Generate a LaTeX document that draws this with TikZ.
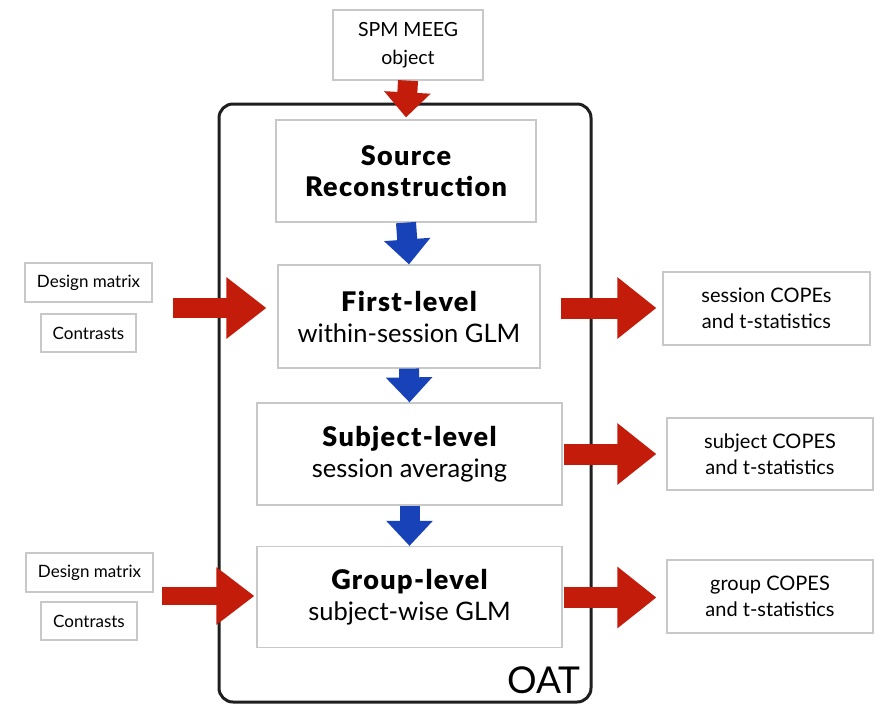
\documentclass[tikz,border=0pt]{standalone}
\usepackage{fontspec}
\setmainfont{Lato}
\newfontface\headfont[LetterSpace=5]{Lato Black}
\usetikzlibrary{arrows.meta}
\definecolor{flowred}{RGB}{196,28,10}
\definecolor{flowblue}{RGB}{24,66,184}
\definecolor{boxgray}{RGB}{200,200,200}
\tikzset{
  x=1pt, y=-1pt,
  stage/.style={draw=boxgray, line width=1.2pt, fill=white, align=center,
    inner sep=0pt, font=\fontsize{25.5}{31}\selectfont},
  smallbox/.style={draw=boxgray, line width=1.2pt, fill=white, align=center,
    inner sep=0pt, font=\fontsize{17}{20}\selectfont},
  outbox/.style={draw=boxgray, line width=1.2pt, fill=white, align=center,
    inner sep=0pt, font=\fontsize{20}{26}\selectfont},
  bluearrow/.style={draw=flowblue, line width=20pt,
    -{Triangle[width=45pt,length=25pt,fill=flowblue]}},
  redin/.style={draw=flowred, line width=20pt,
    -{Triangle[width=59pt,length=40pt,fill=flowred]}},
  redout/.style={draw=flowred, line width=21pt,
    -{Triangle[width=59pt,length=39pt,fill=flowred]}},
  redtop/.style={draw=flowred, line width=20pt,
    -{Triangle[width=45pt,length=25pt,fill=flowred]}},
}
\newcommand{\stagehead}[1]{{\headfont\fontsize{27}{31}\selectfont #1}}
\begin{document}
\begin{tikzpicture}
\useasboundingbox[fill=white] (0,0) rectangle (880,707);

% OAT pipeline frame
\draw[line width=3pt, rounded corners=14pt, draw=black!88] (219,104) rectangle (591,702);
\node[anchor=south east, inner sep=0pt, font=\fontsize{37}{40}\selectfont] (oat) at (581,694) {OAT};

% input object
\node[smallbox, minimum width=150pt, minimum height=70pt,
      font=\fontsize{19.5}{28}\selectfont] (spm) at (408,45) {SPM MEEG\\object};

% processing stages
\node[stage, minimum width=260pt, minimum height=102pt] (src) at (406,171)
  {\stagehead{Source}\\\stagehead{Reconstruction}};
\node[stage, minimum width=262pt, minimum height=103pt] (first) at (409,316.5)
  {\stagehead{First-level}\\within-session GLM};
\node[stage, minimum width=305pt, minimum height=102pt] (subj) at (409.5,454)
  {\stagehead{Subject-level}\\session averaging};
\node[stage, minimum width=305pt, minimum height=101pt] (group) at (409.5,597)
  {\stagehead{Group-level}\\subject-wise GLM};

% first-level inputs
\node[smallbox, minimum width=127pt, minimum height=39pt] (dm1) at (88.5,282.5) {Design matrix};
\node[smallbox, minimum width=95pt, minimum height=38pt] (con1) at (88.5,333) {Contrasts};
% group-level inputs
\node[smallbox, minimum width=127pt, minimum height=39pt] (dm2) at (89.5,572.5) {Design matrix};
\node[smallbox, minimum width=96pt, minimum height=38pt] (con2) at (89,621) {Contrasts};

% outputs
\node[outbox, minimum width=207pt, minimum height=73pt] (out1) at (766.5,308.5)
  {session COPEs\\and t-statistics};
\node[outbox, minimum width=206pt, minimum height=72pt] (out2) at (770,454)
  {subject COPES\\and t-statistics};
\node[outbox, minimum width=206pt, minimum height=73pt] (out3) at (770,596.5)
  {group COPES\\and t-statistics};

% flow between stages
\draw[redtop] (spm.south) -- ([yshift=2pt]src.north);
\draw[bluearrow] (src.south) -- (first.north);
\draw[bluearrow] (first.south) -- (subj.north);
\draw[bluearrow] (subj.south) -- (group.north);

% inputs into the GLM stages
\coordinate (in1) at (173,308);
\draw[redin] (in1) -- ([xshift=-11pt]in1 -| first.west);
\coordinate (in2) at (162,596);
\draw[redin, line width=18pt, -{Triangle[width=55pt,length=38pt,fill=flowred]}]
  (in2) -- ([xshift=-2pt]in2 -| group.west);

% results out of each level
\coordinate (o1) at (561,308);
\draw[redout] (o1) -- ([xshift=-6pt]o1 -| out1.west);
\coordinate (o2) at (564,454);
\draw[redout] (o2) -- ([xshift=-10pt]o2 -| out2.west);
\coordinate (o3) at (564,597.5);
\draw[redout] (o3) -- ([xshift=-10pt]o3 -| out3.west);
\end{tikzpicture}
\end{document}
